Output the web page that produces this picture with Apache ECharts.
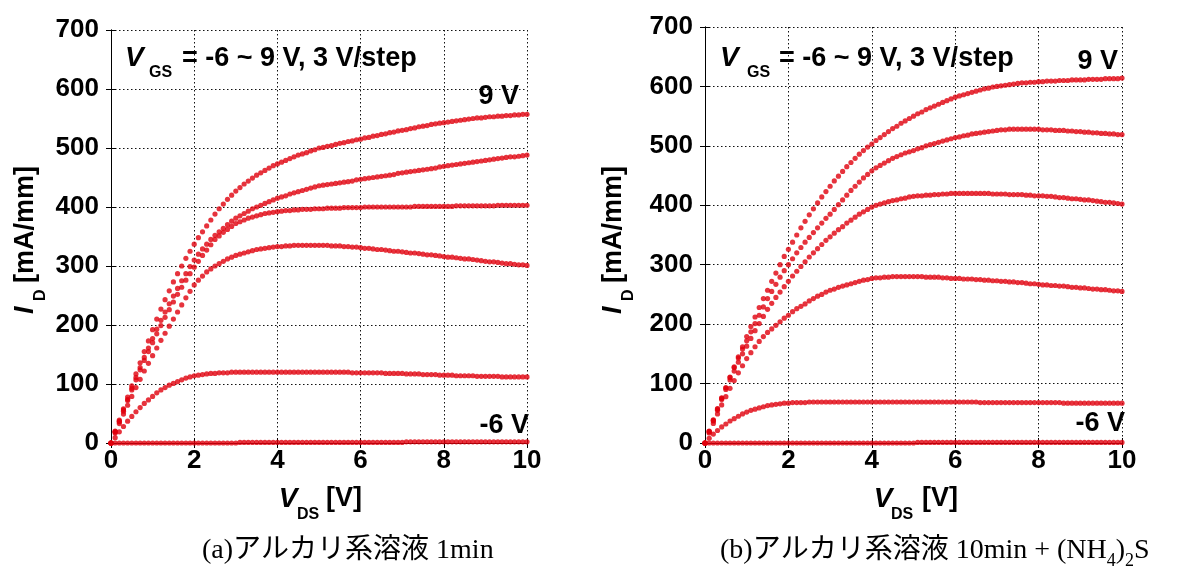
<!DOCTYPE html>
<html>
<head>
<meta charset="utf-8">
<script src="https://cdn.jsdelivr.net/npm/echarts@6/dist/echarts.min.js"></script>
<style>
  html, body { margin: 0; padding: 0; background: #fff; }
  #chart { width: 1180px; height: 567px; }
</style>
</head>
<body>
<div id="chart"></div>
<script>
// V_DS sweep (V)
const vds = [
  0, 0.1, 0.2, 0.3, 0.4, 0.5, 0.6, 0.7, 0.8, 0.9, 1,
  1.1, 1.2, 1.3, 1.4, 1.5, 1.6, 1.7, 1.8, 1.9, 2,
  2.1, 2.2, 2.3, 2.4, 2.5, 2.6, 2.7, 2.8, 2.9, 3,
  3.1, 3.2, 3.3, 3.4, 3.5, 3.6, 3.7, 3.8, 3.9, 4,
  4.1, 4.2, 4.3, 4.4, 4.5, 4.6, 4.7, 4.8, 4.9, 5,
  5.1, 5.2, 5.3, 5.4, 5.5, 5.6, 5.7, 5.8, 5.9, 6,
  6.1, 6.2, 6.3, 6.4, 6.5, 6.6, 6.7, 6.8, 6.9, 7,
  7.1, 7.2, 7.3, 7.4, 7.5, 7.6, 7.7, 7.8, 7.9, 8,
  8.1, 8.2, 8.3, 8.4, 8.5, 8.6, 8.7, 8.8, 8.9, 9,
  9.1, 9.2, 9.3, 9.4, 9.5, 9.6, 9.7, 9.8, 9.9, 10
]

// (a) アルカリ系溶液 1min : I_D [mA/mm] for V_GS = -6 .. 9 V
const aVgsM6 = [
  0, 0, 0, 0, 0, 0, 0, 0, 0, 0, 0,
  0, 0, 0, 0, 0, 0, 0, 0, 0, 0,
  0, 0, 0, 0, 0, 0, 0, 0, 0, 0,
  1, 1, 1, 1, 1, 1, 1, 1, 1, 1,
  1, 1, 1, 1, 1, 1, 1, 1, 1, 1,
  1, 1, 1, 1, 1, 1, 1, 1, 1, 1,
  1, 1, 1, 1, 1, 1, 1, 1, 1, 1,
  2, 2, 2, 2, 2, 2, 2, 2, 2, 2,
  2, 2, 2, 2, 2, 2, 2, 2, 2, 2,
  2, 2, 2, 2, 2, 2, 2, 2, 2, 2
]
const aVgsM3 = [
  0, 9, 19, 28, 37, 45, 53, 60, 67, 73, 79,
  85, 90, 94, 98, 101, 104, 107, 110, 112, 114,
  115, 116, 117, 118, 118, 119, 119, 119, 120, 120,
  120, 120, 120, 120, 120, 120, 120, 120, 120, 120,
  120, 120, 120, 120, 120, 120, 120, 120, 120, 120,
  120, 120, 120, 120, 120, 120, 120, 119, 119, 119,
  119, 119, 119, 119, 119, 118, 118, 118, 118, 118,
  117, 117, 117, 117, 116, 116, 116, 116, 115, 115,
  115, 115, 114, 114, 114, 114, 114, 113, 113, 113,
  113, 113, 113, 112, 112, 112, 112, 112, 112, 112
]
const aVgs0 = [
  0, 17, 33, 49, 64, 79, 94, 108, 122, 135, 148,
  161, 174, 186, 198, 210, 222, 234, 246, 257, 268,
  276, 283, 290, 295, 300, 304, 308, 312, 315, 318,
  320, 322, 324, 326, 328, 329, 330, 331, 332, 333,
  333, 334, 334, 335, 335, 335, 335, 335, 335, 335,
  335, 335, 334, 334, 334, 333, 333, 332, 332, 331,
  330, 330, 329, 328, 328, 327, 326, 325, 325, 324,
  323, 322, 322, 321, 320, 319, 319, 318, 317, 316,
  315, 315, 314, 313, 312, 312, 311, 310, 309, 308,
  307, 307, 306, 305, 304, 304, 303, 302, 302, 301
]
const aVgs3 = [
  0, 19, 36, 54, 72, 90, 107, 124, 140, 155, 170,
  185, 199, 213, 226, 239, 252, 264, 276, 287, 298,
  308, 318, 327, 336, 345, 351, 357, 362, 367, 372,
  375, 378, 381, 383, 385, 387, 389, 390, 391, 392,
  393, 394, 394, 395, 395, 396, 396, 396, 397, 397,
  397, 398, 398, 398, 398, 399, 399, 399, 399, 399,
  400, 400, 400, 400, 400, 400, 400, 400, 400, 400,
  400, 400, 401, 401, 401, 401, 401, 401, 401, 401,
  401, 401, 402, 402, 402, 402, 402, 402, 402, 402,
  402, 402, 403, 403, 403, 403, 403, 403, 403, 403
]
const aVgs6 = [
  0, 19, 37, 56, 74, 93, 111, 128, 145, 161, 177,
  193, 208, 222, 236, 249, 262, 275, 287, 299, 310,
  320, 329, 337, 345, 352, 358, 364, 370, 376, 381,
  385, 389, 393, 397, 400, 403, 406, 409, 412, 415,
  417, 419, 422, 424, 426, 428, 430, 432, 434, 436,
  437, 438, 439, 440, 441, 442, 443, 444, 446, 447,
  448, 449, 450, 451, 452, 453, 454, 455, 457, 458,
  459, 460, 461, 462, 463, 464, 465, 466, 468, 469,
  470, 471, 472, 473, 474, 475, 476, 477, 478, 479,
  480, 481, 482, 483, 484, 485, 485, 486, 487, 488
]
const aVgs9 = [
  0, 20, 39, 58, 78, 97, 117, 136, 155, 173, 192,
  210, 227, 243, 258, 273, 287, 300, 313, 325, 337,
  348, 358, 368, 378, 388, 397, 405, 413, 420, 427,
  433, 439, 444, 449, 454, 458, 462, 466, 470, 473,
  476, 479, 482, 485, 488, 490, 492, 495, 497, 500,
  501, 503, 504, 506, 508, 509, 511, 512, 514, 515,
  517, 518, 520, 521, 523, 524, 526, 527, 529, 530,
  531, 533, 534, 536, 537, 538, 540, 541, 542, 543,
  544, 545, 546, 547, 548, 549, 550, 551, 551, 552,
  553, 553, 554, 554, 555, 555, 556, 556, 557, 557
]

// (b) アルカリ系溶液 10min + (NH4)2S
const bVgsM6 = [
  0, 0, 0, 0, 0, 0, 0, 0, 0, 0, 0,
  0, 0, 0, 0, 0, 0, 0, 0, 0, 0,
  0, 0, 0, 0, 0, 0, 0, 0, 0, 0,
  0, 0, 0, 0, 0, 0, 0, 0, 0, 0,
  0, 0, 0, 0, 0, 0, 0, 0, 0, 0,
  1, 1, 1, 1, 1, 1, 1, 1, 1, 1,
  1, 1, 1, 1, 1, 1, 1, 1, 1, 1,
  1, 1, 1, 1, 1, 1, 1, 1, 1, 1,
  1, 1, 1, 1, 1, 1, 1, 1, 1, 1,
  1, 1, 1, 1, 1, 1, 1, 1, 1, 1
]
const bVgsM3 = [
  0, 8, 15, 21, 27, 32, 37, 41, 45, 49, 52,
  55, 57, 59, 61, 63, 64, 65, 66, 67, 67,
  68, 68, 68, 68, 69, 69, 69, 69, 69, 69,
  69, 69, 69, 69, 69, 69, 69, 69, 69, 69,
  69, 69, 69, 69, 69, 69, 69, 69, 69, 69,
  69, 69, 69, 69, 69, 69, 69, 69, 69, 69,
  69, 69, 69, 69, 69, 68, 68, 68, 68, 68,
  68, 68, 68, 68, 68, 68, 68, 68, 68, 68,
  68, 68, 68, 68, 68, 67, 67, 67, 67, 67,
  67, 67, 67, 67, 67, 67, 67, 67, 67, 67
]
const bVgs0 = [
  0, 17, 33, 49, 64, 78, 92, 105, 118, 130, 142,
  152, 162, 171, 179, 186, 192, 198, 204, 210, 215,
  221, 226, 230, 234, 239, 243, 247, 250, 254, 257,
  259, 262, 264, 266, 268, 270, 272, 274, 275, 277,
  278, 278, 279, 279, 280, 280, 280, 280, 280, 280,
  280, 280, 279, 279, 279, 279, 278, 278, 277, 277,
  277, 276, 276, 276, 275, 275, 274, 274, 273, 273,
  272, 272, 271, 271, 270, 270, 269, 268, 268, 267,
  266, 266, 265, 265, 264, 264, 263, 262, 262, 261,
  261, 260, 259, 259, 258, 258, 257, 256, 256, 255
]
const bVgs3 = [
  0, 19, 37, 55, 73, 90, 106, 121, 136, 150, 163,
  176, 189, 201, 213, 225, 235, 245, 254, 263, 272,
  281, 289, 297, 305, 313, 320, 327, 334, 341, 347,
  353, 359, 364, 370, 375, 380, 385, 389, 393, 397,
  400, 402, 404, 406, 408, 409, 411, 412, 414, 415,
  416, 416, 417, 417, 418, 418, 419, 419, 420, 420,
  420, 420, 420, 420, 420, 420, 420, 420, 419, 419,
  419, 419, 418, 418, 418, 418, 417, 417, 416, 416,
  416, 415, 415, 414, 413, 413, 412, 411, 411, 410,
  409, 409, 408, 407, 406, 405, 405, 404, 403, 402
]
const bVgs6 = [
  0, 19, 38, 57, 75, 93, 110, 127, 143, 158, 172,
  187, 201, 215, 229, 243, 255, 267, 279, 290, 300,
  310, 320, 329, 338, 346, 354, 362, 370, 378, 385,
  393, 401, 409, 417, 425, 432, 439, 446, 452, 458,
  463, 467, 471, 475, 479, 482, 485, 488, 490, 492,
  495, 497, 500, 502, 504, 506, 508, 510, 512, 514,
  515, 517, 518, 520, 521, 522, 523, 524, 525, 526,
  527, 527, 528, 528, 528, 528, 528, 528, 528, 528,
  527, 527, 527, 526, 526, 526, 525, 525, 524, 524,
  523, 523, 522, 522, 521, 521, 520, 520, 519, 519
]
const bVgs9 = [
  0, 20, 39, 58, 76, 93, 111, 128, 145, 162, 179,
  196, 212, 228, 243, 257, 272, 286, 300, 314, 326,
  338, 350, 362, 373, 384, 394, 404, 414, 423, 432,
  441, 449, 457, 465, 472, 479, 486, 492, 498, 503,
  509, 514, 519, 524, 529, 533, 538, 542, 546, 550,
  554, 557, 561, 564, 567, 570, 573, 576, 579, 582,
  584, 586, 588, 590, 592, 594, 596, 597, 599, 600,
  601, 602, 603, 604, 605, 606, 606, 607, 607, 608,
  608, 609, 609, 609, 610, 610, 610, 611, 611, 611,
  611, 612, 612, 612, 612, 613, 613, 613, 613, 614
]

const panelCurves = [
  [aVgsM6, aVgsM3, aVgs0, aVgs3, aVgs6, aVgs9],
  [bVgsM6, bVgsM3, bVgs0, bVgs3, bVgs6, bVgs9]
]

const FONT = '"Liberation Sans", Arial, sans-serif'
const SERIF = '"Liberation Serif", "Noto Sans CJK JP", serif'
const DOT = '#e0000c'

// plot areas (px)
const grids = [
  { left: 111, top: 30, width: 416, height: 413 },
  { left: 705, top: 27, width: 417, height: 416 }
]

function txt(x, y, text, size, o = {}) {
  return {
    type: 'text', x, y, rotation: o.rot || 0, silent: true,
    style: {
      text, fill: '#000', fontFamily: o.family || FONT,
      fontSize: size, fontWeight: o.weight || 'bold', fontStyle: o.italic ? 'italic' : 'normal',
      align: o.align || 'left', verticalAlign: 'middle', rich: o.rich
    }
  }
}

const xAxes = [], yAxes = [], series = [], graphic = []

grids.forEach((g, p) => {
  const base = { min: 0, max: 10, interval: 2, gridIndex: p }
  xAxes.push({
    ...base, type: 'value', position: 'bottom',
    axisLine: { lineStyle: { color: '#000', width: 1 } },
    axisTick: { inside: true, length: 5, lineStyle: { color: '#000' } },
    axisLabel: { color: '#000', fontFamily: FONT, fontWeight: 'bold', fontSize: 26, margin: 5 },
    splitLine: { show: true, lineStyle: { color: '#111', width: 1, type: [1.5, 2.5] } }
  })
  xAxes.push({
    ...base, type: 'value', position: 'top',
    axisLine: { lineStyle: { color: '#000', width: 1 } },
    axisTick: { inside: true, length: 5, lineStyle: { color: '#000' } },
    axisLabel: { show: false }, splitLine: { show: false }
  })
  const ybase = { min: 0, max: 700, interval: 100, gridIndex: p, type: 'value' }
  yAxes.push({
    ...ybase, position: 'left',
    axisLine: { show: true, lineStyle: { color: '#000', width: 1 } },
    axisTick: { show: true, inside: true, length: 5, lineStyle: { color: '#000' } },
    axisLabel: { color: '#000', fontFamily: FONT, fontWeight: 'bold', fontSize: 26, margin: 12 },
    splitLine: { show: true, lineStyle: { color: '#111', width: 1, type: [1.5, 2.5] } }
  })
  yAxes.push({
    ...ybase, position: 'right',
    axisLine: { show: true, lineStyle: { color: '#000', width: 1 } },
    axisTick: { show: true, inside: true, length: 5, lineStyle: { color: '#000' } },
    axisLabel: { show: false }, splitLine: { show: false }
  })

  panelCurves[p].forEach(curve => {
    series.push({
      type: 'scatter', xAxisIndex: p * 2, yAxisIndex: p * 2,
      symbol: 'circle', symbolSize: 5.2, clip: false, silent: true,
      itemStyle: { color: DOT },
      data: vds.map((v, i) => [v, curve[i]])
    })
  })
})

// axis titles and annotations
const ROT = Math.PI / 2
const lay = [
  { yt: 26, ydx: 41, vx: 288, dsx: 297, bx: 326, ax: 125, gx: 149, rx: 182, ay: 58,
    nine: [519, 97], six: [529, 426] },
  { yt: 614, ydx: 629, vx: 883, dsx: 891, bx: 922, ax: 720, gx: 747, rx: 779, ay: 58,
    nine: [1118, 62], six: [1125, 424] }
]
lay.forEach(l => {
  graphic.push(txt(l.yt, 314, 'I', 27, { rot: ROT, italic: true }))
  graphic.push(txt(l.ydx, 301, 'D', 16, { rot: ROT }))
  graphic.push(txt(l.yt, 283, '[mA/mm]', 27, { rot: ROT }))
  graphic.push(txt(l.vx, 499, 'V', 28, { italic: true, align: 'center' }))
  graphic.push(txt(l.dsx, 515, 'DS', 16))
  graphic.push(txt(l.bx, 499, '[V]', 27))
  graphic.push(txt(l.ax, l.ay, 'V', 28, { italic: true }))
  graphic.push(txt(l.gx, l.ay + 15, 'GS', 16))
  graphic.push(txt(l.rx, l.ay + 1, '= -6 ~ 9 V, 3 V/step', 27))
  graphic.push(txt(l.nine[0], l.nine[1], '9 V', 27, { align: 'right' }))
  graphic.push(txt(l.six[0], l.six[1], '-6 V', 27, { align: 'right' }))
})

// captions
graphic.push(txt(202, 551, '(a)アルカリ系溶液 1min', 28, { family: SERIF, weight: 'normal' }))
graphic.push(txt(720, 551, '{t|(b)アルカリ系溶液 10min + (NH}{s|4}{t|)}{s|2}{t|S}', 28, {
  family: SERIF, weight: 'normal',
  rich: {
    t: { fontFamily: SERIF, fontSize: 28, lineHeight: 32 },
    s: { fontFamily: SERIF, fontSize: 18, lineHeight: 38, verticalAlign: 'bottom' }
  }
}))

const chart = echarts.init(document.getElementById('chart'), null, { renderer: 'canvas' })
chart.setOption({
  animation: false,
  backgroundColor: '#fff',
  grid: grids.map(g => ({ ...g, containLabel: false })),
  xAxis: xAxes,
  yAxis: yAxes,
  series,
  graphic
})
</script>
</body>
</html>
